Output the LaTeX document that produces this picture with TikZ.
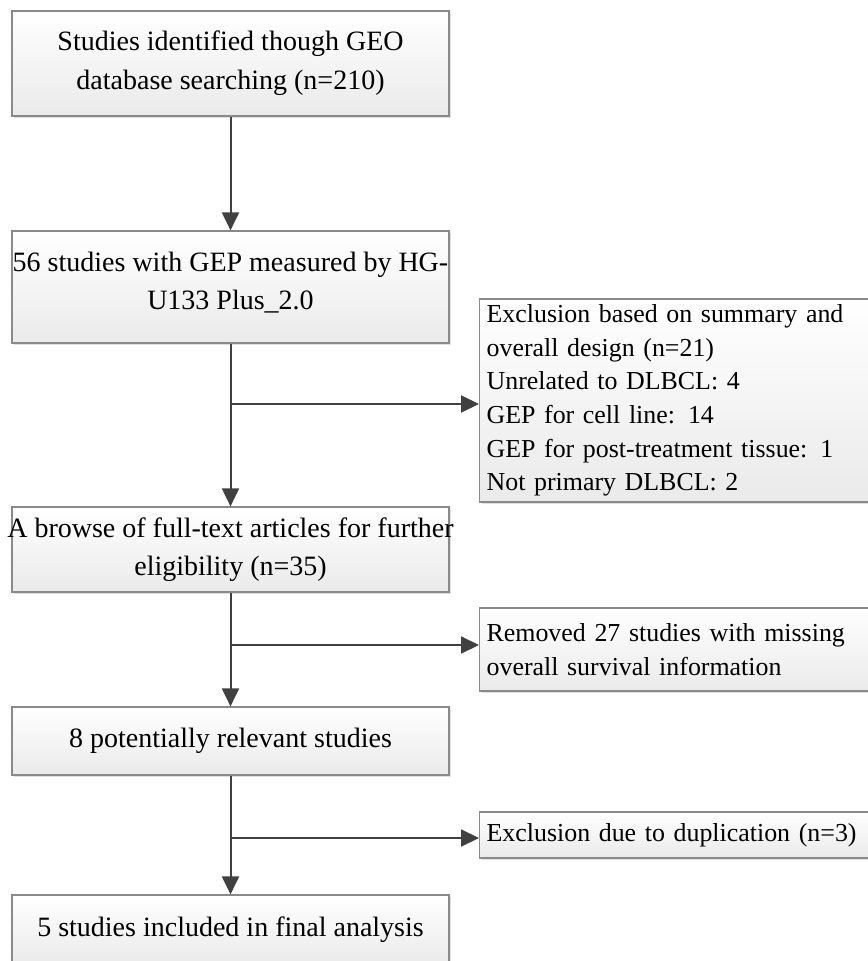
\documentclass[tikz,border=0pt]{standalone}
\usepackage{fontspec}
\setmainfont{Liberation Serif}
\usetikzlibrary{arrows.meta,shadows}
\definecolor{boxline}{HTML}{8A8A8A}
\definecolor{boxlow}{HTML}{EAEAEA}
\definecolor{flow}{HTML}{404040}
\tikzstyle{box}=[draw=boxline, line width=0.6pt, top color=white, bottom color=boxlow,
  drop shadow={shadow xshift=1.2pt, shadow yshift=-1.2pt, opacity=.25},
  inner sep=0pt]
\tikzstyle{stage}=[box, minimum width=218.5pt, align=center, font=\fontsize{14}{18.8}\selectfont]
\tikzstyle{excluded}=[box, anchor=west, text width=250pt, inner xsep=3.5pt, align=left,
  font=\fontsize{12.95}{16.8}\selectfont]
\tikzstyle{flowline}=[flow, line width=1pt]

\begin{document}
\begin{tikzpicture}[x=0.5pt,y=-0.5pt,>={Triangle[length=9pt,width=8.5pt]}]
    \useasboundingbox (0,0) rectangle (867,961);

    % Main stages
    \draw (230.5,63.5) node[stage, minimum height=52.5pt] (b1)
        {Studies identified though GEO\\[0.8pt]database searching (n=210)};
    \draw (230.5,287) node[stage, minimum height=56pt] (b2)
        {56 studies with GEP measured by HG-\\U133 Plus\_2.0\\[-12.8pt]\mbox{}};
    \draw (230.5,549.5) node[stage, minimum height=42.5pt] (b3)
        {\makebox[214pt]{A browse of full-text articles for further}\\eligibility (n=35)};
    \draw (230.5,741) node[stage, minimum height=34pt] (b4)
        {8 potentially relevant studies};
    \draw (230.5,930) node[stage, minimum height=35pt] (b5)
        {5 studies included in final analysis};

    % Exclusions
    \draw (479,400.5) node[excluded, minimum height=101.5pt] (e1)
        {Exclusion based on summary and\\overall design (n=21)\\Unrelated to DLBCL: 4\\GEP for cell line: 14\\GEP for post-treatment tissue: 1\\Not primary DLBCL: 2};
    \draw (479,649.5) node[excluded, minimum height=41.5pt] (e2)
        {Removed 27 studies with missing\\overall survival information};
    \draw (479,835) node[excluded, minimum height=23pt] (e3)
        {Exclusion due to duplication (n=3)};

    % Branch points
    \coordinate (j1) at (231,404);
    \coordinate (j2) at (231,645);
    \coordinate (j3) at (231,838);

    % Arrows
    \draw[flowline,->] (b1) -- (b2);
    \draw[flowline,->] (b2) -- (b3);
    \draw[flowline,->] (b3) -- (b4);
    \draw[flowline,->] (b4) -- (b5);
    \draw[flowline,->] (j1) -- (j1 -| e1.west);
    \draw[flowline,->] (j2) -- (j2 -| e2.west);
    \draw[flowline,->] (j3) -- (j3 -| e3.west);
\end{tikzpicture}
\end{document}
